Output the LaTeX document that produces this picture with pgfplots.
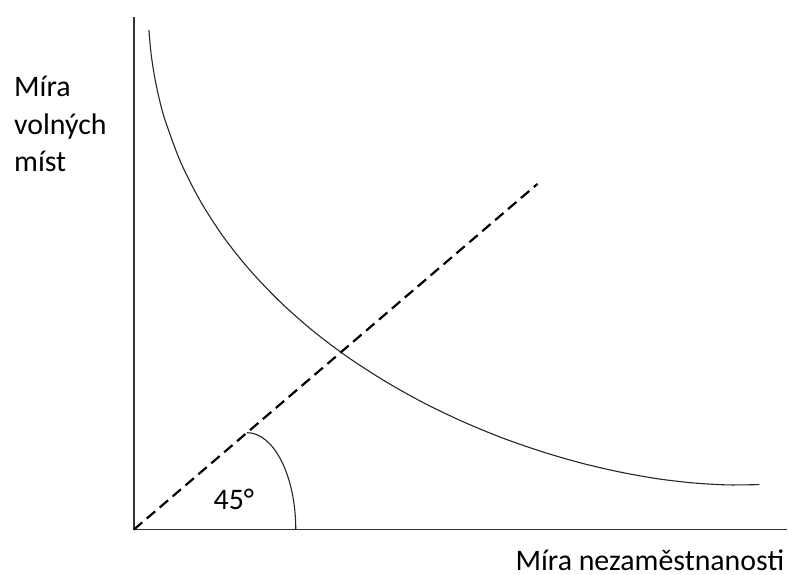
\documentclass[border=0pt]{standalone}
\usepackage{fontspec}
\setmainfont{Carlito}
\usepackage{pgfplots}
\pgfplotsset{compat=1.18}

\begin{document}
\begin{tikzpicture}
\begin{axis}[
  x=1bp, y=1bp,
  xmin=0, xmax=654, ymin=0, ymax=513,
  axis lines*=left,
  axis line style={black!80, line width=1.3bp},
  xtick=\empty, ytick=\empty,
  clip=false,
]
% Beveridgeova krivka
\addplot[black!85, line width=1.1bp, smooth] coordinates {
 (15,500) (17.2,476.3) (20.7,453.3) (25.4,431.0) (31.4,409.2) (46.8,367.7)
 (66.5,328.8) (89.9,292.5) (116.9,258.7) (146.8,227.5) (179.4,198.7)
 (214.2,172.5) (250.8,148.8) (288.7,127.5) (327.7,108.7) (367.2,92.3)
 (407.0,78.4) (446.4,66.9) (485.3,57.8) (523.1,51.0) (559.4,46.7)
 (593.8,44.7) (626,45)};
% 45° přímka
\addplot[black, line width=2.2bp, dash pattern=on 11bp off 6bp] coordinates {
 (0,0) (404,346)};
\draw[black!85, line width=1.1bp] (axis cs:113,97)
  .. controls (axis cs:140,97) and (axis cs:162,54) .. (axis cs:162,0);
\node[font=\fontsize{30}{30}\selectfont, anchor=base, inner sep=0]
  at (axis cs:100,20) {45°};
\node[font=\fontsize{30}{38}\selectfont, anchor=base west, align=left, inner sep=0]
  at (axis cs:-120,358) {Míra\\volných\\míst};
\node[font=\fontsize{30}{30}\selectfont, anchor=base east, inner sep=0]
  at (axis cs:651,-41) {Míra nezaměstnanosti};
\path (axis cs:-134,-45) rectangle (axis cs:654,530);
\end{axis}
\end{tikzpicture}
\end{document}
